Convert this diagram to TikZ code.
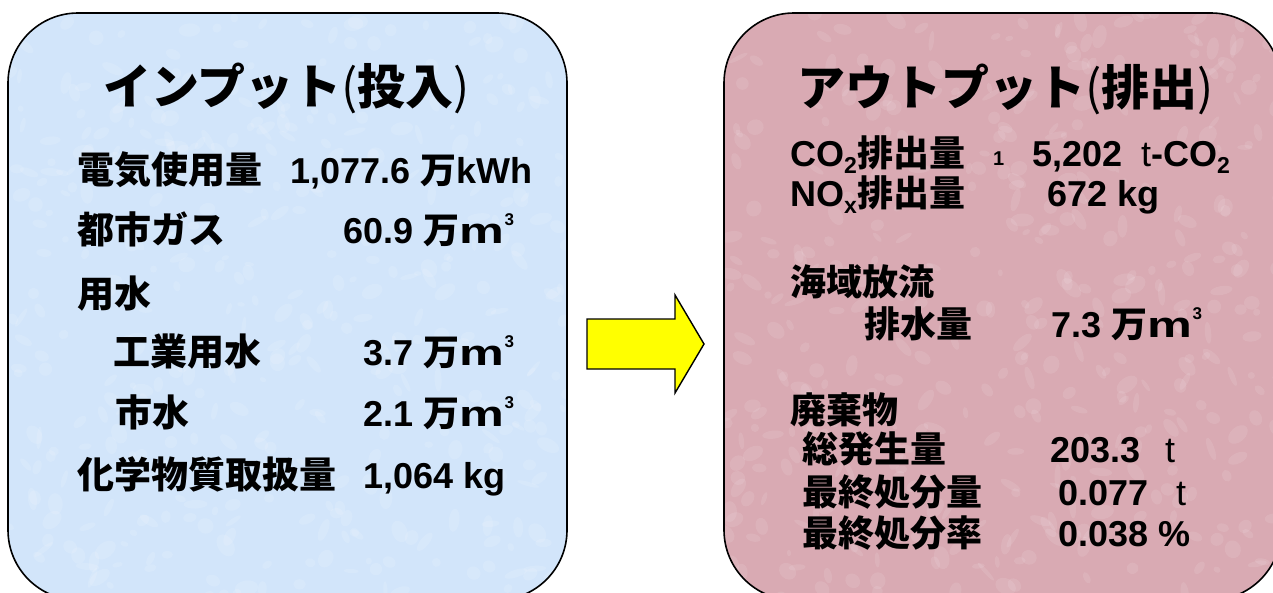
\documentclass[tikz,border=0pt]{standalone}
\usepackage{fontspec}
\usepackage{graphicx}
\setmainfont{Liberation Sans}
\newfontfamily\jp{Noto Sans CJK JP}
\definecolor{inblue}{RGB}{210,229,250}
\definecolor{outpink}{RGB}{217,170,179}
\definecolor{arrowyellow}{RGB}{255,255,0}
\newcommand{\cube}{\scalebox{1.4}[1]{m}\kern0.5pt\raisebox{0.5em}{\bfseries\fontsize{17}{17}\selectfont 3}}
\newcommand{\subtxt}[1]{\raisebox{-0.22em}{\fontsize{23}{23}\selectfont #1}}
\tikzset{
  panel/.style={draw=black, line width=1.6pt, rounded corners=70pt},
  speck/.style={fill=white, opacity=0.13},
  ttl/.style={anchor=base west, inner sep=0pt, font=\jp\bfseries\fontsize{48}{52}\selectfont},
  lrow/.style={anchor=base west, inner sep=0pt, font=\jp\bfseries\fontsize{37}{40}\selectfont},
  lval/.style={anchor=base west, inner sep=0pt, font=\bfseries\fontsize{36}{40}\selectfont},
  rrow/.style={anchor=base west, inner sep=0pt, font=\jp\bfseries\fontsize{36}{40}\selectfont},
  rval/.style={anchor=base west, inner sep=0pt, font=\bfseries\fontsize{36}{40}\selectfont},
  thinval/.style={anchor=base west, inner sep=0pt, font=\fontsize{36}{40}\selectfont},
}
\begin{document}
\begin{tikzpicture}[x=1pt,y=-1pt]
\useasboundingbox (0,0) rectangle (1273,592);
\begin{scope}
\clip (0,0) rectangle (1273,592);
\fill[inblue, rounded corners=70pt] (8,13) rectangle (567,600);
\fill[outpink, rounded corners=70pt] (724,13) rectangle (1281,600);
\begin{scope}
\clip[rounded corners=70pt] (8,13) rectangle (567,600);
\pgfmathsetseed{11}
\foreach \i in {1,...,420}{
  \pgfmathsetmacro\xx{8+559*rnd}
  \pgfmathsetmacro\yy{13+587*rnd}
  \pgfmathsetmacro\ra{3+9*rnd}
  \pgfmathsetmacro\rb{2+6*rnd}
  \pgfmathsetmacro\an{180*rnd}
  \fill[speck, rotate around={\an:(\xx,\yy)}] (\xx,\yy) ellipse ({\ra} and {\rb});
}
\end{scope}
\begin{scope}
\clip[rounded corners=70pt] (724,13) rectangle (1281,600);
\pgfmathsetseed{23}
\foreach \i in {1,...,420}{
  \pgfmathsetmacro\xx{724+557*rnd}
  \pgfmathsetmacro\yy{13+587*rnd}
  \pgfmathsetmacro\ra{3+9*rnd}
  \pgfmathsetmacro\rb{2+6*rnd}
  \pgfmathsetmacro\an{180*rnd}
  \fill[speck, opacity=0.1, rotate around={\an:(\xx,\yy)}] (\xx,\yy) ellipse ({\ra} and {\rb});
}
\end{scope}
\draw[panel] (8,13) rectangle (567,600);
\draw[panel] (724,13) rectangle (1281,600);
\end{scope}
% arrow
\filldraw[fill=arrowyellow, draw=black, line width=1.4pt, line join=miter]
  (587,319) -- (675,319) -- (675,295) -- (704,344) -- (675,393) -- (675,369) -- (587,369) -- cycle;

% left panel
\node[ttl] (lt) at (103,104) {インプット{\mdseries(}投入{\mdseries)}};
\node[lrow] (l1) at (77,183) {電気使用量};
\node[lval] (v1) at (290,183) {1,077.6 {\jp 万}kWh};
\node[lrow] (l2) at (77,243) {都市ガス};
\node[lval] (v2) at (343,243) {60.9 {\jp 万}\cube};
\node[lrow] (l3) at (77,307) {用水};
\node[lrow] (l4) at (113,365) {工業用水};
\node[lval] (v4) at (363,365) {3.7 {\jp 万}\cube};
\node[lrow] (l5) at (115,426) {市水};
\node[lval] (v5) at (363,426) {2.1 {\jp 万}\cube};
\node[lrow] (l6) at (77,488) {化学物質取扱量};
\node[lval] (v6) at (363,488) {1,064 kg};

% right panel
\node[ttl] (rt) at (797,105) {アウトプット{\mdseries(}排出{\mdseries)}};
\node[rrow] (r1) at (790,166) {{\fontspec{Liberation Sans}CO\subtxt{2}}排出量};
\node[anchor=base west, inner sep=0pt, font=\bfseries\fontsize{20}{22}\selectfont] (n1) at (993,165) {1};
\node[rval] (w1) at (1032,166) {5,202};
\node[thinval] (u1) at (1141,166) {t{\bfseries -CO\subtxt{2}}};
\node[rrow] (r2) at (790,206) {{\fontspec{Liberation Sans}NO\subtxt{x}}排出量};
\node[rval] (w2) at (1047,206) {672 kg};
\node[rrow] (r3) at (790,295) {海域放流};
\node[rrow] (r4) at (864,337) {排水量};
\node[rval] (w4) at (1051,337) {7.3 {\jp 万}\cube};
\node[rrow] (r5) at (790,423) {廃棄物};
\node[rrow] (r6) at (802,462) {総発生量};
\node[rval] (w6) at (1050,462) {203.3};
\node[thinval] (u6) at (1165,462) {t};
\node[rrow] (r7) at (802,505) {最終処分量};
\node[rval] (w7) at (1058,505) {0.077};
\node[thinval] (u7) at (1176,505) {t};
\node[rrow] (r8) at (802,546) {最終処分率};
\node[rval] (w8) at (1058,546) {0.038 \%};
\end{tikzpicture}
\end{document}
